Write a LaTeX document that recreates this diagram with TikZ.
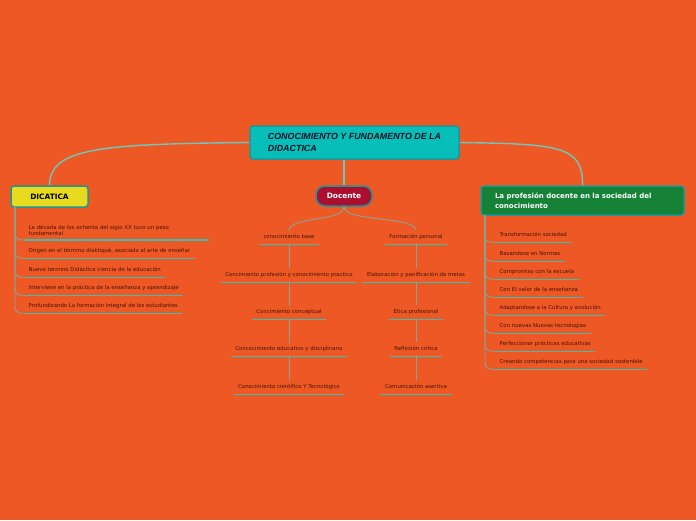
\documentclass[tikz,border=0pt]{standalone}
\usepackage{fontspec}
\setmainfont{DejaVu Sans}
\newfontfamily\titlefont{Liberation Sans}
\definecolor{fondo}{RGB}{238,88,36}
\definecolor{turquesa}{RGB}{8,190,185}
\definecolor{borde}{RGB}{30,150,150}
\definecolor{vino}{RGB}{172,14,48}
\definecolor{amarillo}{RGB}{232,218,30}
\definecolor{verde}{RGB}{22,130,55}
\definecolor{letra}{RGB}{70,20,10}
\definecolor{raya}{RGB}{60,190,180}
\definecolor{rama}{RGB}{135,165,150}
\definecolor{enlace}{RGB}{110,200,190}
\definecolor{titulo}{RGB}{10,20,40}

\begin{document}
\begin{tikzpicture}[x=1pt,y=-1pt,
mainbox/.style={draw=borde, line width=1.5pt, fill=turquesa, rounded corners=3pt,
  inner xsep=4pt, minimum width=209pt, minimum height=33pt, align=left,
  font=\titlefont\fontsize{8.9}{12}\selectfont\bfseries\itshape, text=titulo},
topic/.style={draw=borde, line width=1.5pt, rounded corners=3pt, font=\fontsize{7.4}{9}\selectfont\bfseries},
leaf/.style={inner xsep=4.5pt, inner ysep=3pt, text depth=3pt, text=letra,
  font=\fontsize{5.4}{6.2}\selectfont,
  append after command={(\tikzlastnode.south west) edge[underl] (\tikzlastnode.south east)}},
underl/.style={draw=raya, line width=1.3pt},
branch/.style={draw=rama, line width=0.9pt},
link/.style={draw=enlace, line width=1.4pt}]

\fill[fondo] (0,0) rectangle (696,520);
\useasboundingbox (0,0) rectangle (696,520);

% main topic and its three branches
\node[mainbox] (main) at (354.5,142.5) {CONOCIMIENTO Y FUNDAMENTO DE LA\\DIDACTICA};
\node[topic, fill=amarillo, minimum width=77pt, minimum height=21pt] (dic) at (49.5,196.5) {DICATICA};
\node[topic, fill=vino, text=white, rounded corners=9pt, minimum width=56pt, minimum height=20pt] (doc) at (344,196) {Docente};
\node[topic, fill=verde, text=white, inner xsep=14pt, text width=175pt, minimum height=29pt, align=left,
  font=\fontsize{7}{10}\selectfont\bfseries] (soc) at (582.5,200.5) {La profesión docente en la sociedad del\\conocimiento};

\draw[link] (main.west) .. controls (100,144) and (50,148) .. (dic.north);
\draw[link] (main.east) .. controls (560,144) and (583,146) .. (soc.north);
\draw[link] (doc.north |- main.south) -- (doc.north);

% DICATICA
\node[leaf, text depth=, inner ysep=4.5pt, anchor=south west, align=left, text width=176pt] (d1) at (24,240) {La década de los ochenta del siglo XX tuvo un peso\\fundamental};
\node[leaf, anchor=base west] (d2) at (24,252) {Origen en el término diaktiqué, asociado al arte de enseñar};
\node[leaf, anchor=base west] (d3) at (24,271) {Nuevo termino Didáctica  ciencia de la educación};
\node[leaf, anchor=base west] (d4) at (24,289) {Interviene en la práctica de la enseñanza y aprendizaje};
\node[leaf, anchor=base west] (d5) at (24,307) {Profundizando La formación integral de los estudiantes};
\coordinate (dl) at (15,207);
\foreach \n in {d1,d2,d3,d4,d5}
  \draw[branch, rounded corners=6pt] (dl) |- (\n.south west);

% Docente
\node[leaf, anchor=base] (c1) at (289,238) {conocimiento base};
\node[leaf, anchor=base] (c2) at (289,276) {Concimiento profesión y conocimiento practico};
\node[leaf, anchor=base] (c3) at (289,313) {Concimiento  conceptual};
\node[leaf, anchor=base] (c4) at (289,350) {Concocimiento educativo y disciplinario};
\node[leaf, anchor=base] (c5) at (289,388) {Conocimiento científico Y Tecnológico};
\node[leaf, anchor=base] (p1) at (416,238) {Formación personal};
\node[leaf, anchor=base] (p2) at (416,276) {Elaboración y panificación de metas};
\node[leaf, anchor=base] (p3) at (416,313) {Ética profesional};
\node[leaf, anchor=base] (p4) at (416,350) {Reflexión critica};
\node[leaf, anchor=base] (p5) at (416,388) {Comunicación asertiva};
\draw[branch] (doc.south) .. controls (344,222) and (289,216) .. (c1.north);
\draw[branch] (doc.south) .. controls (344,222) and (416,216) .. (p1.north);
\draw[branch] (c1.south) -- (c2.north);
\draw[branch] (c2.south) -- (c3.north);
\draw[branch] (c3.south) -- (c4.north);
\draw[branch] (c4.south) -- (c5.north);
\draw[branch] (p1.south) -- (p2.north);
\draw[branch] (p2.south) -- (p3.north);
\draw[branch] (p3.south) -- (p4.north);
\draw[branch] (p4.south) -- (p5.north);

% La profesion docente
\node[leaf, anchor=base west] (s1) at (495,236) {Transformación sociedad};
\node[leaf, anchor=base west] (s2) at (495,255) {Basandose en Normas};
\node[leaf, anchor=base west] (s3) at (495,273) {Compromiso con la escuela};
\node[leaf, anchor=base west] (s4) at (495,291) {Con El valor de la enseñanza};
\node[leaf, anchor=base west] (s5) at (495,309) {Adaptandose a la Cultura y evolución};
\node[leaf, anchor=base west] (s6) at (495,327) {Con nuevas Nuevas tecnologias};
\node[leaf, anchor=base west] (s7) at (495,345) {Perfeccionar prácticas educativas};
\node[leaf, anchor=base west] (s8) at (495,363) {Creando competencias para una sociedad sostenible};
\coordinate (sl) at (485,215);
\foreach \n in {s1,s2,s3,s4,s5,s6,s7,s8}
  \draw[branch, rounded corners=6pt] (sl) |- (\n.south west);
\end{tikzpicture}
\end{document}
